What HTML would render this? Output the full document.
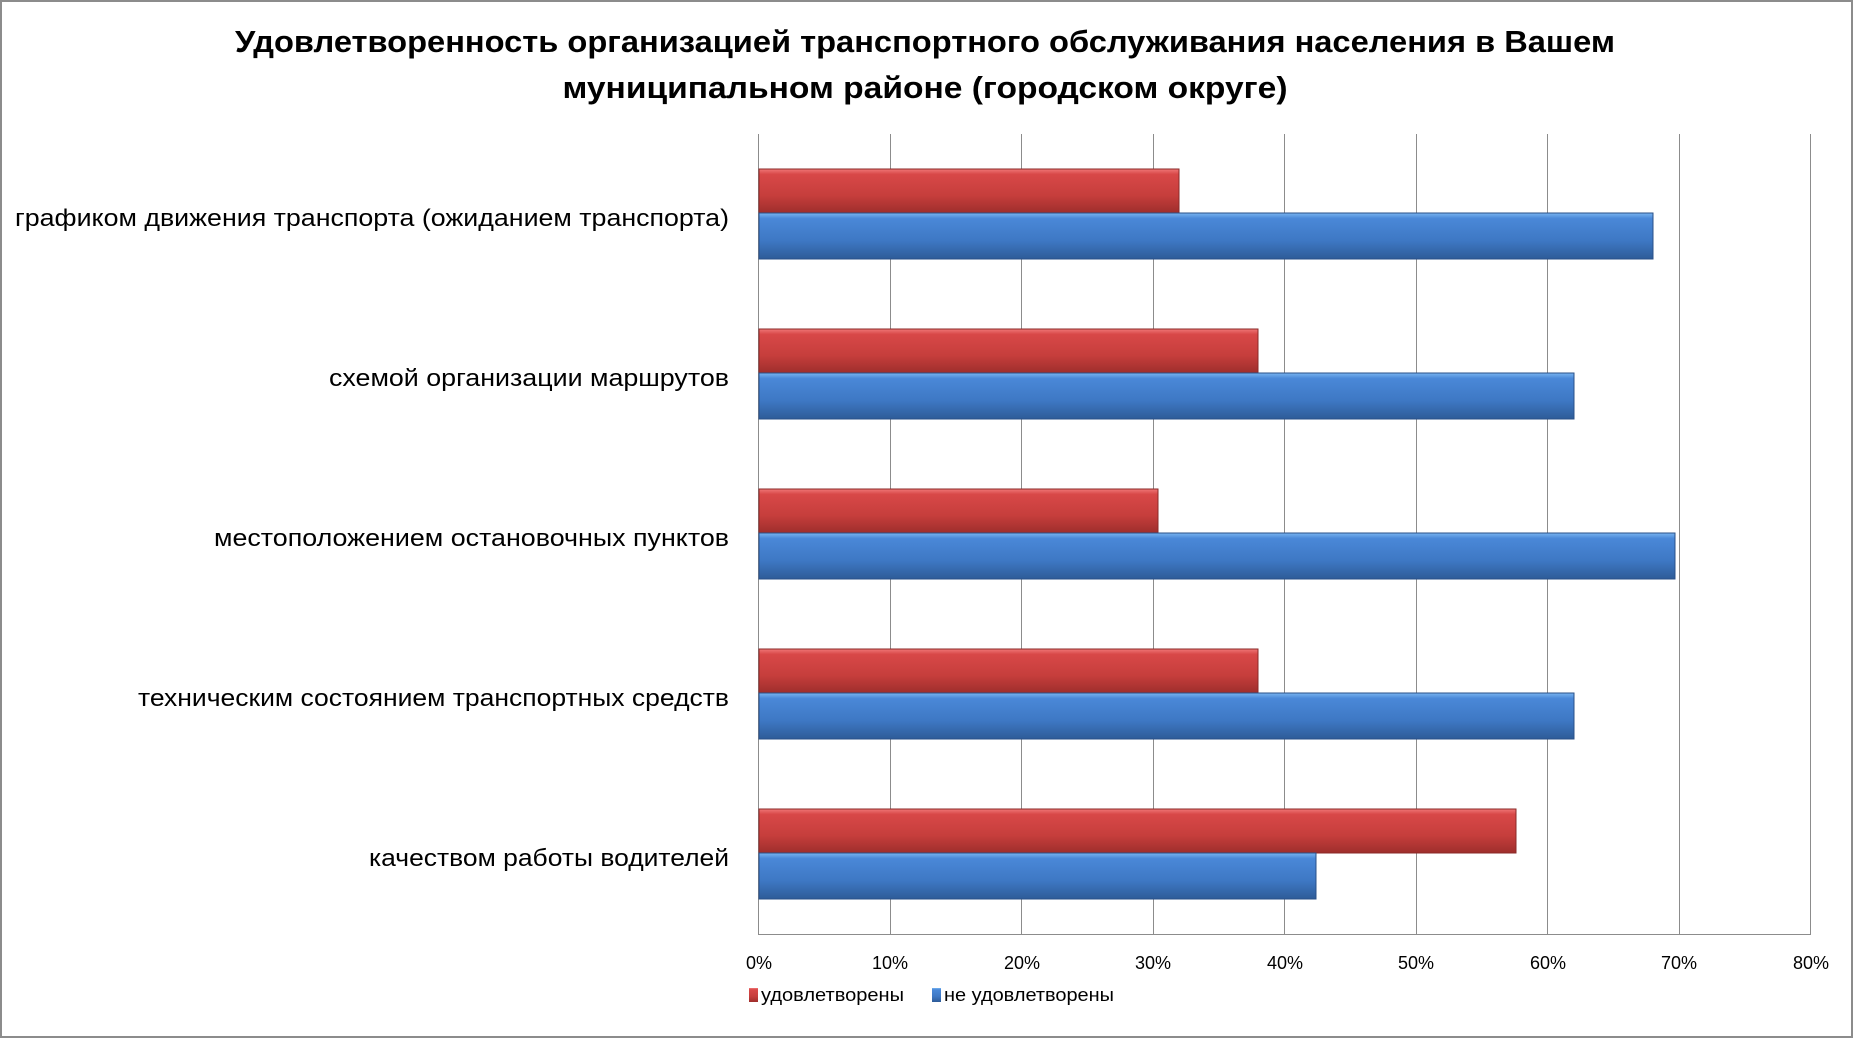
<!DOCTYPE html>
<html><head><meta charset="utf-8"><style>
html,body{margin:0;padding:0;background:#fff;}
svg{display:block;}
text{font-family:"Liberation Sans","DejaVu Sans",sans-serif;fill:#000;}
</style></head><body>
<svg width="1853" height="1038" viewBox="0 0 1853 1038" xmlns="http://www.w3.org/2000/svg">
<defs>
<linearGradient id="r" x1="0" y1="0" x2="0" y2="1">
<stop offset="0" stop-color="#f07878"/><stop offset="0.12" stop-color="#d84848"/><stop offset="0.6" stop-color="#c63e3c"/><stop offset="1" stop-color="#9e2e2c"/></linearGradient>
<linearGradient id="b" x1="0" y1="0" x2="0" y2="1">
<stop offset="0" stop-color="#78b4f0"/><stop offset="0.12" stop-color="#4a88d8"/><stop offset="0.6" stop-color="#3e78c4"/><stop offset="1" stop-color="#2e5c98"/></linearGradient>
</defs>
<rect x="1" y="1" width="1851" height="1036" fill="#fff" stroke="#8c8c8c" stroke-width="2"/>
<text x="925" y="52" font-size="31" font-weight="bold" text-anchor="middle" textLength="1380" lengthAdjust="spacingAndGlyphs">Удовлетворенность организацией транспортного обслуживания населения в Вашем</text>
<text x="925" y="98" font-size="31" font-weight="bold" text-anchor="middle" textLength="725" lengthAdjust="spacingAndGlyphs">муниципальном районе (городском округе)</text>
<g stroke="#8c8c8c" stroke-width="1">
<line x1="890.5" y1="134" x2="890.5" y2="934"/><line x1="1021.5" y1="134" x2="1021.5" y2="934"/><line x1="1153.5" y1="134" x2="1153.5" y2="934"/><line x1="1284.5" y1="134" x2="1284.5" y2="934"/><line x1="1416.5" y1="134" x2="1416.5" y2="934"/><line x1="1547.5" y1="134" x2="1547.5" y2="934"/><line x1="1679.5" y1="134" x2="1679.5" y2="934"/><line x1="1810.5" y1="134" x2="1810.5" y2="934"/>
<line x1="758.5" y1="134" x2="758.5" y2="934"/><line x1="758" y1="934.5" x2="1811" y2="934.5"/>
</g>
<g stroke-width="1">
<rect x="759" y="169" width="420" height="44" fill="url(#r)" stroke="#8a2a28"/><rect x="759" y="213" width="894" height="46" fill="url(#b)" stroke="#2a5088"/>
<rect x="759" y="329" width="499" height="44" fill="url(#r)" stroke="#8a2a28"/><rect x="759" y="373" width="815" height="46" fill="url(#b)" stroke="#2a5088"/>
<rect x="759" y="489" width="399" height="44" fill="url(#r)" stroke="#8a2a28"/><rect x="759" y="533" width="916" height="46" fill="url(#b)" stroke="#2a5088"/>
<rect x="759" y="649" width="499" height="44" fill="url(#r)" stroke="#8a2a28"/><rect x="759" y="693" width="815" height="46" fill="url(#b)" stroke="#2a5088"/>
<rect x="759" y="809" width="757" height="44" fill="url(#r)" stroke="#8a2a28"/><rect x="759" y="853" width="557" height="46" fill="url(#b)" stroke="#2a5088"/>
</g>
<g font-size="24" text-anchor="end">
<text x="729" y="226" textLength="714" lengthAdjust="spacingAndGlyphs">графиком движения транспорта (ожиданием транспорта)</text>
<text x="729" y="386" textLength="400" lengthAdjust="spacingAndGlyphs">схемой организации маршрутов</text>
<text x="729" y="546" textLength="515" lengthAdjust="spacingAndGlyphs">местоположением остановочных пунктов</text>
<text x="729" y="706" textLength="591" lengthAdjust="spacingAndGlyphs">техническим состоянием транспортных средств</text>
<text x="729" y="866" textLength="360" lengthAdjust="spacingAndGlyphs">качеством работы водителей</text>
</g>
<g font-size="18" text-anchor="middle">
<text x="759" y="969">0%</text><text x="890" y="969">10%</text><text x="1022" y="969">20%</text><text x="1153" y="969">30%</text><text x="1285" y="969">40%</text><text x="1416" y="969">50%</text><text x="1548" y="969">60%</text><text x="1679" y="969">70%</text><text x="1811" y="969">80%</text>
</g>
<rect x="749" y="988" width="9" height="14" fill="url(#r)"/>
<text x="761" y="1001" font-size="18" textLength="143" lengthAdjust="spacingAndGlyphs">удовлетворены</text>
<rect x="932" y="988" width="9" height="14" fill="url(#b)"/>
<text x="944" y="1001" font-size="18" textLength="170" lengthAdjust="spacingAndGlyphs">не удовлетворены</text>
</svg>
</body></html>
